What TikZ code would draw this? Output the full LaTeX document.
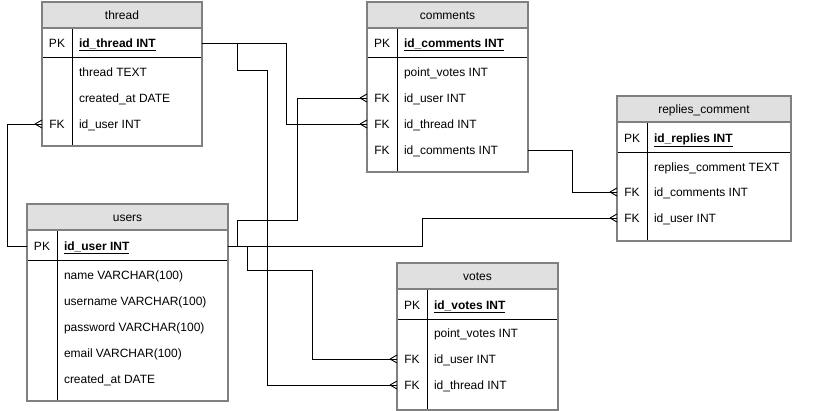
\documentclass[tikz,border=0pt]{standalone}
\usepackage{fontspec}
\setmainfont{Liberation Sans}
\definecolor{hdrfill}{HTML}{E0E0E0}
\definecolor{bordergray}{HTML}{808080}
\tikzset{
  txt/.style={font=\fontsize{12}{14}\selectfont, inner sep=0pt, outer sep=0pt, text height=8.6pt, text depth=0pt},
  keytxt/.style={txt},
  fieldtxt/.style={txt, anchor=west},
  titletxt/.style={txt},
  rowbox/.style={inner sep=0pt, outer sep=0pt, minimum height=26pt},
  border/.style={draw=bordergray, line width=1.6pt},
  inner/.style={draw=black, line width=0.9pt},
  conn/.style={draw=black, line width=0.9pt},
}
% \ertab{name}{x1}{x2}{ytop}{yhead}{ypk}{ybot}{xdiv}{title}
\newcommand{\ertab}[9]{%
  \fill[hdrfill] (#2,#4) rectangle (#3,#5);
  \fill[white] (#2,#5) rectangle (#3,#7);
  \draw[inner] (#2,#6) -- (#3,#6);
  \draw[inner] (#8,#5) -- (#8,#7);
  \draw[border] (#2,#4) rectangle (#3,#7);
  \draw[border] (#2,#5) -- (#3,#5);
  \node[titletxt] (#1) at ({(#2+#3)/2},{(#4+#5)/2}) {#9};
}
% \errow{rowname}{x1}{x2}{xdiv}{y}{key}{text}
\newcommand{\errow}[7]{%
  \node[rowbox, minimum width={(#3-#2)*1pt}] (#1) at ({(#2+#3)/2},#5) {};
  \node[keytxt] (#1-key) at ({(#2+#4)/2},#5) {#6};
  \node[fieldtxt] (#1-txt) at ({#4+7},#5) {#7};
}
\newcommand{\manyend}[1]{%
  \draw[conn] (#1.west) ++(-7,0) -- ++(7,-4) ++(-7,4) -- ++(7,4);
}
\begin{document}
\begin{tikzpicture}[x=1pt,y=-1pt]
\useasboundingbox (0,0) rectangle (814,411);

% thread
\ertab{thread}{42}{202}{2}{28}{57}{146}{72}{thread}
\errow{thread-pk}{42}{202}{72}{43}{PK}{\underline{\textbf{id\_thread INT}}}
\errow{thread-text}{42}{202}{72}{72}{}{thread TEXT}
\errow{thread-created}{42}{202}{72}{98}{}{created\_at DATE}
\errow{thread-iduser}{42}{202}{72}{124}{FK}{id\_user INT}

% comments
\ertab{comments}{367}{528}{2}{28}{57}{172}{397}{comments}
\errow{comments-pk}{367}{528}{397}{43}{PK}{\underline{\textbf{id\_comments INT}}}
\errow{comments-points}{367}{528}{397}{72}{}{point\_votes INT}
\errow{comments-iduser}{367}{528}{397}{98}{FK}{id\_user INT}
\errow{comments-idthread}{367}{528}{397}{124}{FK}{id\_thread INT}
\errow{comments-idcomments}{367}{528}{397}{150}{FK}{id\_comments INT}

% replies_comment
\ertab{replies}{617}{791}{96}{122}{152}{241}{647}{replies\_comment}
\errow{replies-pk}{617}{791}{647}{138}{PK}{\underline{\textbf{id\_replies INT}}}
\errow{replies-text}{617}{791}{647}{167}{}{replies\_comment TEXT}
\errow{replies-idcomments}{617}{791}{647}{192}{FK}{id\_comments INT}
\errow{replies-iduser}{617}{791}{647}{218}{FK}{id\_user INT}

% users
\ertab{users}{27}{228}{204}{230}{260}{401}{57}{users}
\errow{users-pk}{27}{228}{57}{246}{PK}{\underline{\textbf{id\_user INT}}}
\errow{users-name}{27}{228}{57}{275}{}{name VARCHAR(100)}
\errow{users-username}{27}{228}{57}{301}{}{username VARCHAR(100)}
\errow{users-password}{27}{228}{57}{327}{}{password VARCHAR(100)}
\errow{users-email}{27}{228}{57}{353}{}{email VARCHAR(100)}
\errow{users-created}{27}{228}{57}{379}{}{created\_at DATE}

% votes
\ertab{votes}{397}{558}{263}{289}{319}{410}{427}{votes}
\errow{votes-pk}{397}{558}{427}{305}{PK}{\underline{\textbf{id\_votes INT}}}
\errow{votes-points}{397}{558}{427}{333}{}{point\_votes INT}
\errow{votes-iduser}{397}{558}{427}{359}{FK}{id\_user INT}
\errow{votes-idthread}{397}{558}{427}{385}{FK}{id\_thread INT}

% connectors
\draw[conn] (users-pk.west) -- ++(-20,0) |- (thread-iduser.west);
\draw[conn] (thread-pk.east) -- ++(84,0) |- (comments-idthread.west);
\draw[conn] (thread-pk.east) -- ++(35,0) -- ++(0,27) -- ++(30,0) |- (votes-idthread.west);
\draw[conn] (users-pk.east) -- ++(9,0) -- ++(0,-26) -- ++(60,0) |- (comments-iduser.west);
\draw[conn] (users-pk.east) -- ++(19,0) -- ++(0,24) -- ++(65,0) |- (votes-iduser.west);
\draw[conn] (users-pk.east) -- ++(194,0) |- (replies-iduser.west);
\draw[conn] (comments-idcomments.east) -- ++(44,0) |- (replies-idcomments.west);

\manyend{thread-iduser}
\manyend{comments-idthread}
\manyend{comments-iduser}
\manyend{votes-idthread}
\manyend{votes-iduser}
\manyend{replies-iduser}
\manyend{replies-idcomments}
\end{tikzpicture}
\end{document}
